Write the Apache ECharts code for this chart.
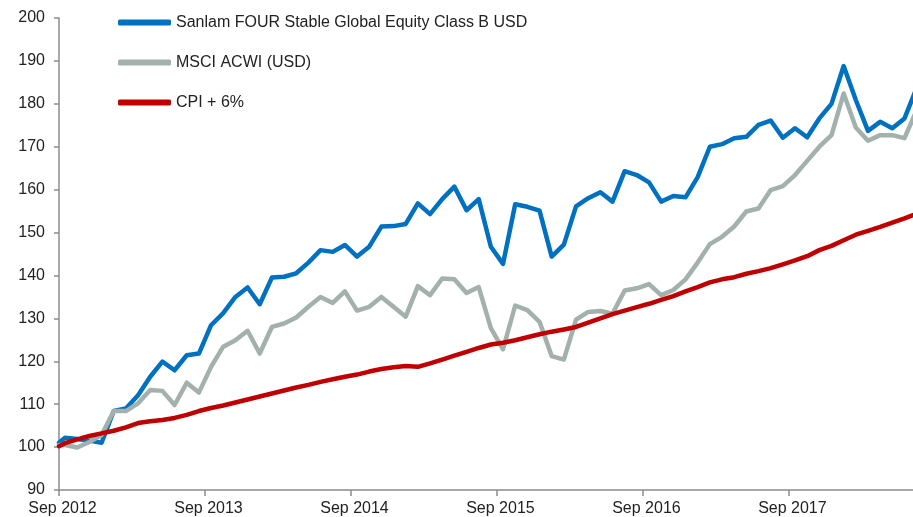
<!DOCTYPE html>
<html>
<head>
<meta charset="utf-8">
<script src="https://cdn.jsdelivr.net/npm/echarts@6/dist/echarts.min.js"></script>
<style>
html,body{margin:0;padding:0;background:#fff;}
#chart{width:913px;height:517px;}
</style>
</head>
<body>
<div id="chart"></div>
<script>
// Tick labels every 12 months starting Sep 2012
const tickLabels = ['Sep 2012', 'Sep 2013', 'Sep 2014', 'Sep 2015', 'Sep 2016', 'Sep 2017'];
const seriesNames = ['Sanlam FOUR Stable Global Equity Class B USD', 'MSCI ACWI (USD)', 'CPI + 6%'];

// Monthly index values (rebased to 100), first value = inception
const sanlam = [101.0, 102.2, 101.9, 101.5, 101.0, 108.4, 109.0, 112.1, 116.4, 119.9, 117.9, 121.4,
  121.8, 128.4, 131.2, 135.0, 137.2, 133.3, 139.5, 139.7, 140.5, 143.0, 145.9, 145.5,
  147.1, 144.4, 146.7, 151.4, 151.5, 152.0, 156.8, 154.3, 157.8, 160.7, 155.2, 157.8,
  146.7, 142.7, 156.6, 156.0, 155.1, 144.4, 147.2, 156.1, 158.0, 159.4, 157.2, 164.3,
  163.4, 161.7, 157.2, 158.5, 158.2, 162.9, 170.0, 170.6, 172.0, 172.3, 175.1, 176.1,
  172.1, 174.3, 172.2, 176.6, 180.0, 188.8, 180.9, 173.7, 175.8, 174.3, 176.6, 183.7];
const msci = [100.5, 100.5, 99.9, 101.2, 102.8, 108.4, 108.4, 110.2, 113.3, 113.1, 109.8, 115.0,
  112.7, 118.7, 123.4, 124.9, 127.1, 121.8, 128.0, 128.8, 130.2, 132.7, 135.0, 133.6,
  136.3, 131.8, 132.7, 135.0, 132.7, 130.4, 137.5, 135.4, 139.3, 139.1, 135.9, 137.3,
  127.7, 122.8, 133.0, 131.9, 129.2, 121.2, 120.4, 129.7, 131.5, 131.7, 131.1, 136.5,
  137.0, 138.0, 135.4, 136.6, 139.1, 143.0, 147.3, 149.0, 151.4, 154.9, 155.6, 159.9,
  160.8, 163.4, 166.7, 170.0, 172.7, 182.4, 174.5, 171.4, 172.7, 172.7, 172.0, 178.5];
const cpi = [100.2, 100.9, 101.8, 102.6, 103.2, 103.8, 104.6, 105.6, 106.0, 106.3, 106.8, 107.5,
  108.4, 109.1, 109.7, 110.4, 111.1, 111.8, 112.5, 113.2, 113.9, 114.5, 115.2, 115.8,
  116.4, 116.9, 117.6, 118.2, 118.6, 118.9, 118.7, 119.5, 120.4, 121.3, 122.2, 123.1,
  123.9, 124.3, 124.9, 125.6, 126.3, 126.9, 127.4, 128.0, 129.0, 130.0, 131.0, 131.8,
  132.6, 133.4, 134.3, 135.2, 136.3, 137.3, 138.4, 139.1, 139.6, 140.4, 141.0, 141.7,
  142.6, 143.5, 144.5, 145.9, 146.9, 148.2, 149.5, 150.4, 151.3, 152.3, 153.3, 154.4];

// time in months since Sep 2012: inception at 0, then mid-month observations
const monthPos = (i) => (i === 0 ? 0 : i - 0.5);
const toPairs = (arr) => arr.map((v, i) => [monthPos(i), v]);

const colors = ['#0070C0', '#A2B1AC', '#C00000'];
const FONT = '"Liberation Sans", Arial, sans-serif';

const chart = echarts.init(document.getElementById('chart'), null, {renderer: 'canvas'});
chart.setOption({
  animation: false,
  backgroundColor: '#ffffff',
  color: colors,
  grid: {left: 59, top: 18, bottom: 27, right: 0, containLabel: false},
  legend: {
    orient: 'vertical',
    left: 118,
    top: 14,
    padding: 0,
    icon: 'roundRect',
    itemWidth: 53,
    itemHeight: 6,
    itemGap: 23,
    data: seriesNames,
    textStyle: {fontFamily: FONT, fontSize: 16, color: '#222', lineHeight: 17}
  },
  xAxis: {
    type: 'value',
    min: 0,
    max: 70.2,
    interval: 12,
    splitLine: {show: false},
    axisLine: {show: true, lineStyle: {color: '#8c8c8c', width: 1.5}},
    axisTick: {show: true, length: 6, lineStyle: {color: '#8c8c8c', width: 1.5}},
    axisLabel: {
      margin: 11,
      padding: [0, 0, 0, 7],
      fontFamily: FONT, fontSize: 16, color: '#222',
      showMaxLabel: false,
      formatter: (v) => (v % 12 === 0 && tickLabels[v / 12]) ? tickLabels[v / 12] : ''
    }
  },
  yAxis: {
    type: 'value',
    min: 90,
    max: 200,
    interval: 10,
    splitLine: {show: false},
    axisLine: {show: true, lineStyle: {color: '#8c8c8c', width: 1.5}},
    axisTick: {show: true, length: 5, lineStyle: {color: '#8c8c8c', width: 1.5}},
    axisLabel: {margin: 14, fontFamily: FONT, fontSize: 16, color: '#222'}
  },
  series: [
    {name: seriesNames[0], type: 'line', data: toPairs(sanlam), showSymbol: false, symbol: 'none', clip: true,
      lineStyle: {width: 4.5, color: colors[0], join: 'round', cap: 'round'}},
    {name: seriesNames[1], type: 'line', data: toPairs(msci), showSymbol: false, symbol: 'none', clip: true,
      lineStyle: {width: 4.5, color: colors[1], join: 'round', cap: 'round'}},
    {name: seriesNames[2], type: 'line', data: toPairs(cpi), showSymbol: false, symbol: 'none', clip: true,
      lineStyle: {width: 4.5, color: colors[2], join: 'round', cap: 'round'}}
  ]
});
</script>
</body>
</html>
